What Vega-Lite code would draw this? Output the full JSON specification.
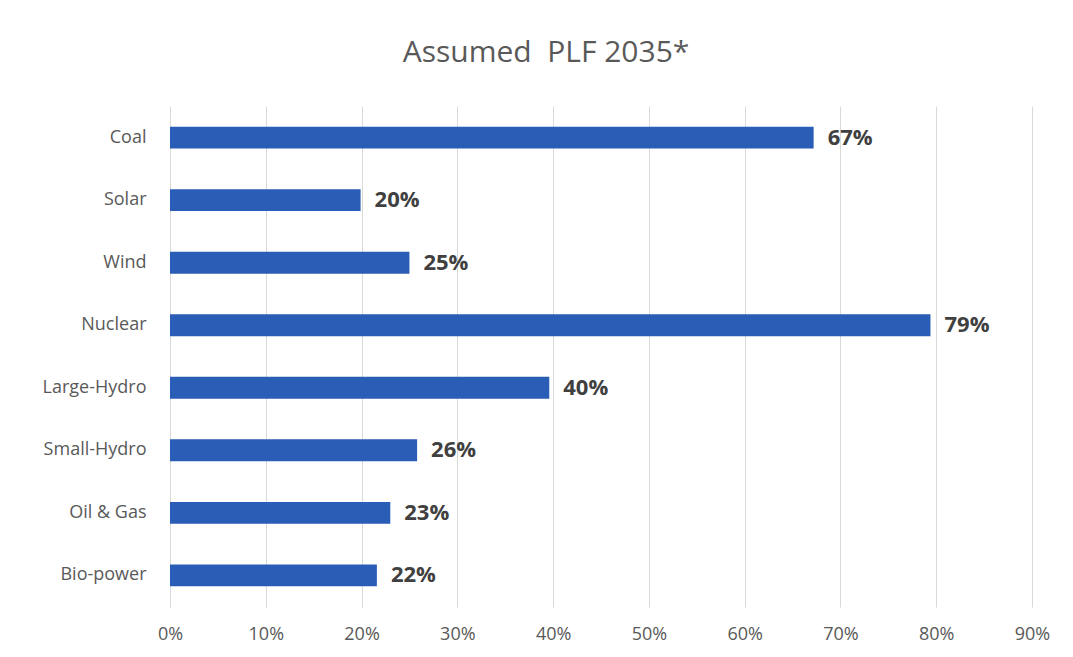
{
  "$schema": "https://vega.github.io/schema/vega-lite/v6.json",
  "autosize": "none",
  "width": 862,
  "height": 501,
  "padding": {"left": 170, "top": 106, "right": 41, "bottom": 50},
  "background": "white",
  "title": {
    "text": "Assumed\u00a0\u00a0PLF 2035*",
    "fontSize": 30,
    "font": "Open Sans",
    "fontWeight": "normal",
    "color": "#595959",
    "anchor": "middle",
    "dx": -55,
    "offset": 38
  },
  "data": {
    "values": [
      {"source": "Coal", "plf": 0.672},
      {"source": "Solar", "plf": 0.199},
      {"source": "Wind", "plf": 0.25},
      {"source": "Nuclear", "plf": 0.794},
      {"source": "Large-Hydro", "plf": 0.396},
      {"source": "Small-Hydro", "plf": 0.258},
      {"source": "Oil & Gas", "plf": 0.23},
      {"source": "Bio-power", "plf": 0.216}
    ]
  },
  "encoding": {
    "y": {
      "field": "source",
      "type": "nominal",
      "sort": null,
      "title": null,
      "scale": {"paddingInner": 0.65, "paddingOuter": 0.33},
      "axis": {"ticks": false, "domain": false, "labelFontSize": 18, "labelFont": "Open Sans", "labelColor": "#595959", "labelPadding": 24}
    },
    "x": {
      "field": "plf",
      "type": "quantitative",
      "title": null,
      "scale": {"domain": [0, 0.9]},
      "axis": {"format": ".0%", "values": [0, 0.1, 0.2, 0.3, 0.4, 0.5, 0.6, 0.7, 0.8, 0.9], "ticks": false, "domain": false, "grid": true, "gridColor": "#d9d9d9", "labelFlush": false, "labelFontSize": 18, "labelFont": "Open Sans", "labelColor": "#595959", "labelPadding": 18}
    }
  },
  "layer": [
    {"mark": {"type": "bar", "color": "#2A5DB5"}},
    {
      "mark": {"type": "text", "align": "left", "dx": 14, "fontSize": 22, "fontWeight": "bold", "font": "Open Sans", "color": "#404040"},
      "encoding": {"text": {"field": "plf", "format": ".0%"}}
    }
  ],
  "config": {"view": {"stroke": null}}
}
